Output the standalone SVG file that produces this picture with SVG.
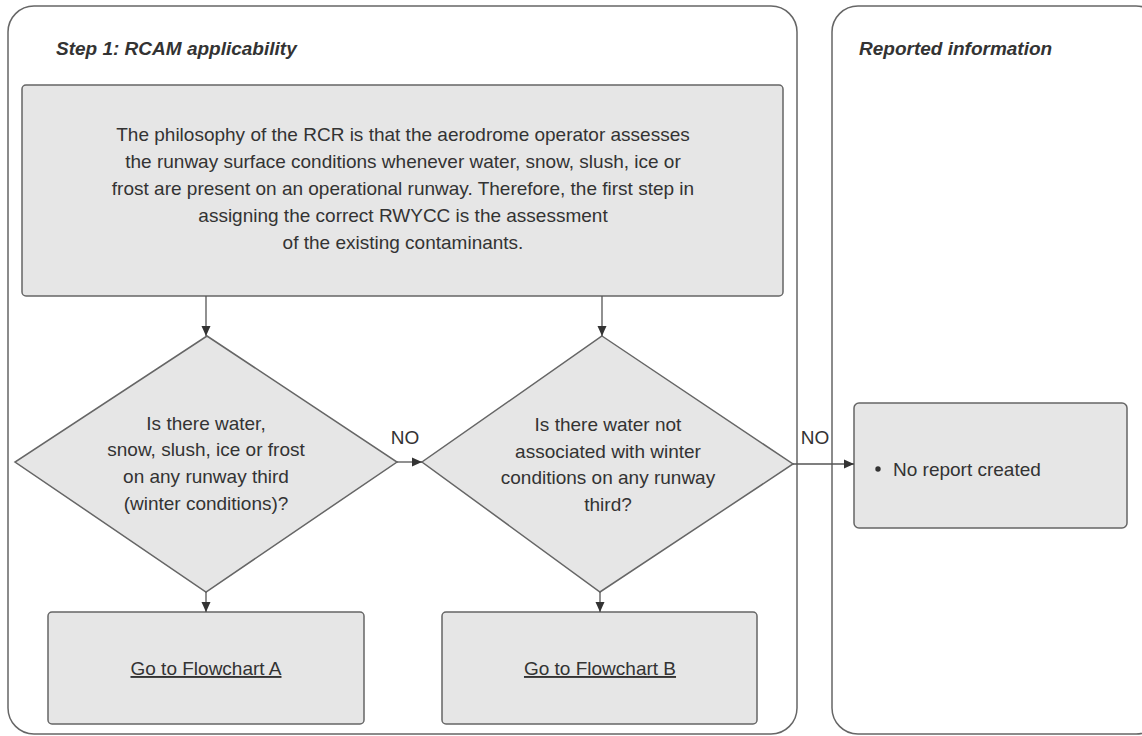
<svg xmlns="http://www.w3.org/2000/svg" width="1142" height="736" viewBox="0 0 1142 736">
<defs>
<marker id="arr" markerWidth="10" markerHeight="10" refX="10" refY="5" orient="auto" markerUnits="userSpaceOnUse">
<path d="M0,0.5 L10,5 L0,9.5 Z" fill="#333"/>
</marker>
</defs>
<style>
.cont{fill:#fff;stroke:#666;stroke-width:1.5}
.box{fill:#e6e6e6;stroke:#666;stroke-width:1.5}
.t{font-family:"Liberation Sans",Arial,sans-serif;font-size:19px;fill:#333;text-anchor:middle}
.h{font-family:"Liberation Sans",Arial,sans-serif;font-size:19px;font-weight:bold;font-style:italic;fill:#333}
.c{fill:none;stroke:#555;stroke-width:1.3}
</style>
<rect width="1142" height="736" fill="#fff"/>
<g id="lane-step1">
<rect class="cont" x="8" y="6" width="789" height="728" rx="26"/>
<text class="h" x="56" y="55">Step 1: RCAM applicability</text>
</g>
<g id="lane-reported">
<rect class="cont" x="832" y="6" width="330" height="728" rx="26"/>
<text class="h" x="859" y="55">Reported information</text>
</g>
<g id="philosophy">
<rect class="box" x="22" y="85" width="761" height="211" rx="4"/>
<text class="t" x="403" y="141">The philosophy of the RCR is that the aerodrome operator assesses</text>
<text class="t" x="403" y="168">the runway surface conditions whenever water, snow, slush, ice or</text>
<text class="t" x="403" y="195">frost are present on an operational runway. Therefore, the first step in</text>
<text class="t" x="403" y="222">assigning the correct RWYCC is the assessment</text>
<text class="t" x="403" y="249">of the existing contaminants.</text>
</g>
<g id="decision-winter">
<polygon class="box" points="207,336 397,462 206,592 15,462"/>
<text class="t" x="206" y="430">Is there water,</text>
<text class="t" x="206" y="456">snow, slush, ice or frost</text>
<text class="t" x="206" y="483">on any runway third</text>
<text class="t" x="206" y="510">(winter conditions)?</text>
</g>
<g id="decision-water">
<polygon class="box" points="602,336 793,464 600,592 422,462"/>
<text class="t" x="608" y="431">Is there water not</text>
<text class="t" x="608" y="458">associated with winter</text>
<text class="t" x="608" y="484">conditions on any runway</text>
<text class="t" x="608" y="511">third?</text>
</g>
<g id="flowchart-a">
<rect class="box" x="48" y="612" width="316" height="112" rx="4"/>
<text class="t" x="206" y="675" text-decoration="underline">Go to Flowchart A</text>
</g>
<g id="flowchart-b">
<rect class="box" x="442" y="612" width="315" height="112" rx="4"/>
<text class="t" x="600" y="675" text-decoration="underline">Go to Flowchart B</text>
</g>
<g id="no-report">
<rect class="box" x="854" y="403" width="273" height="125" rx="5"/>
<circle cx="878" cy="469" r="2.7" fill="#333"/>
<text class="t" x="893" y="476" style="text-anchor:start">No report created</text>
</g>
<g id="connectors">
<line class="c" x1="206" y1="296" x2="206" y2="336" marker-end="url(#arr)"/>
<line class="c" x1="602" y1="296" x2="602" y2="336" marker-end="url(#arr)"/>
<line class="c" x1="206" y1="592" x2="206" y2="612" marker-end="url(#arr)"/>
<line class="c" x1="600" y1="592" x2="600" y2="612" marker-end="url(#arr)"/>
<line class="c" x1="397" y1="462" x2="422" y2="462" marker-end="url(#arr)"/>
<line class="c" x1="793" y1="464" x2="854" y2="464" marker-end="url(#arr)"/>
<text class="t" x="405" y="444">NO</text>
<text class="t" x="815" y="444">NO</text>
</g>
</svg>
